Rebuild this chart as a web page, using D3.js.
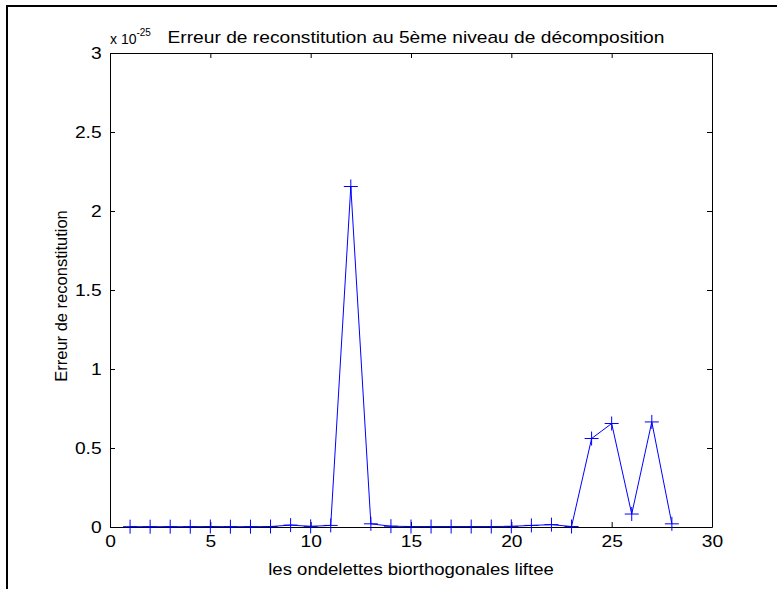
<!DOCTYPE html>
<html>
<head>
<meta charset="utf-8">
<script src="https://d3js.org/d3.v7.min.js"></script>
<style>
  body { margin: 0; background: #fff; }
  text { font-family: "Liberation Sans", Arial, sans-serif; fill: #000; }
</style>
</head>
<body>
<div id="chart"></div>
<script>
// niveaux de decomposition (index des ondelettes)
var waveletIdx = d3.range(1, 29);
// erreur de reconstitution, en unites de 1e-25
var errValues = [
  0.002, 0.002, 0.002, 0.002, 0.003, 0.002, 0.002, 0.003, 0.012, 0.004,
  0.010, 2.155, 0.020, 0.005, 0.003, 0.003, 0.003, 0.003, 0.003, 0.004,
  0.010, 0.015, 0.003, 0.560, 0.655, 0.082, 0.665, 0.020
];
var xTicks = [0, 5, 10, 15, 20, 25, 30];
var yTicks = [0, 0.5, 1, 1.5, 2, 2.5, 3];

var width = 777, height = 589;
var axL = 110, axR = 712, axT = 53, axB = 527;
var sx = 1.2; // texte un peu etire horizontalement comme l'export matlab

var svg = d3.select("#chart").append("svg")
  .attr("width", width)
  .attr("height", height);

// cadre de la figure
svg.append("rect")
  .attr("x", 7).attr("y", 6)
  .attr("width", 800).attr("height", 600)
  .attr("fill", "none").attr("stroke", "#000").attr("stroke-width", 2);

var x = d3.scaleLinear().domain([0, 30]).range([axL, axR]);
var y = d3.scaleLinear().domain([0, 3]).range([axB, axT]);

var tl = 5;
// axes bas / gauche avec labels, haut / droite sans
svg.append("g")
  .attr("transform", "translate(0," + axB + ")")
  .call(d3.axisBottom(x).tickValues(xTicks).tickSizeInner(-tl).tickSizeOuter(0).tickPadding(9));
svg.append("g")
  .attr("transform", "translate(0," + axT + ")")
  .call(d3.axisTop(x).tickValues(xTicks).tickSizeInner(-tl).tickSizeOuter(0).tickFormat(""));
svg.append("g")
  .attr("transform", "translate(" + axL + ",0)")
  .call(d3.axisLeft(y).tickValues(yTicks).tickSizeInner(-tl).tickSizeOuter(0).tickPadding(7).tickFormat(d3.format("")));
svg.append("g")
  .attr("transform", "translate(" + axR + ",0)")
  .call(d3.axisRight(y).tickValues(yTicks).tickSizeInner(-tl).tickSizeOuter(0).tickFormat(""));

svg.selectAll(".domain").attr("stroke", "#000").attr("stroke-width", 1);
svg.selectAll(".tick line").attr("stroke", "#000");
svg.selectAll(".tick text")
  .style("font-family", "'Liberation Sans', Arial, sans-serif")
  .style("font-size", "16px")
  .attr("fill", "#000")
  .attr("transform", "scale(" + sx + ",1)");

var pts = waveletIdx.map(function(d, i) { return [d, errValues[i]]; });

svg.append("path")
  .datum(pts)
  .attr("fill", "none")
  .attr("stroke", "#0000ff")
  .attr("stroke-width", 1)
  .attr("d", d3.line().x(d => x(d[0])).y(d => y(d[1])));

// marqueurs +
var m = 7;
svg.append("g").selectAll("path")
  .data(pts)
  .enter().append("path")
  .attr("fill", "none")
  .attr("stroke", "#0000ff")
  .attr("stroke-width", 1)
  .attr("d", d => {
    var cx = x(d[0]), cy = y(d[1]);
    return "M" + (cx - m) + "," + cy + "H" + (cx + m) + "M" + cx + "," + (cy - m) + "V" + (cy + m);
  });

// multiplicateur
var mult = svg.append("text")
  .attr("x", axL).attr("y", 44)
  .style("font-size", "14px");
mult.append("tspan").text("x 10");
mult.append("tspan").attr("dy", -8).style("font-size", "10px").text("-25");

// titre
svg.append("text")
  .attr("transform", "translate(416,43) scale(1.2,1)")
  .attr("text-anchor", "middle")
  .style("font-size", "16px")
  .text("Erreur de reconstitution au 5ème niveau de décomposition");

svg.append("text")
  .attr("transform", "translate(" + ((axL + axR) / 2) + ",575) scale(1.16,1)")
  .attr("text-anchor", "middle")
  .style("font-size", "16px")
  .text("les ondelettes biorthogonales liftee");

svg.append("text")
  .attr("transform", "translate(67," + ((axT + axB) / 2 + 6) + ") rotate(-90)")
  .attr("text-anchor", "middle")
  .style("font-size", "16.5px")
  .text("Erreur de reconstitution");
</script>
</body>
</html>
